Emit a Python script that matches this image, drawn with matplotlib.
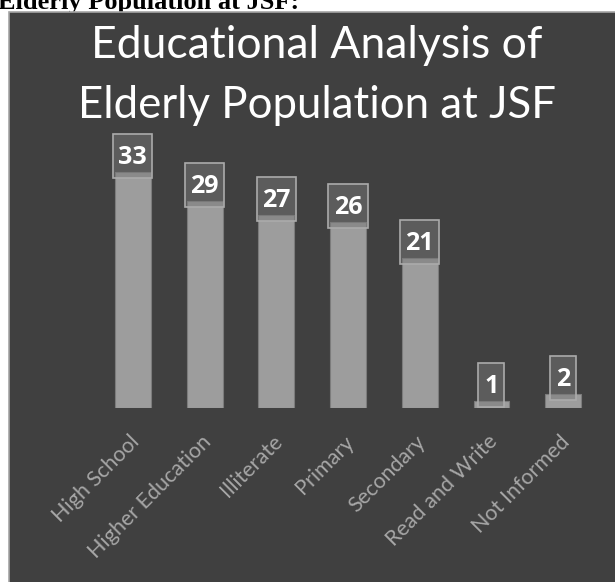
import matplotlib.pyplot as plt
import matplotlib.transforms as mtransforms
from matplotlib.patches import Rectangle

# nivel de escolaridade dos idosos
categorias = ["High School", "Higher Education", "Illiterate", "Primary",
              "Secondary", "Read and Write", "Not Informed"]
valores = [33, 29, 27, 26, 21, 1, 2]

W, H = 615, 582
fig = plt.figure(figsize=(W / 100, H / 100), dpi=100)
fig.patch.set_facecolor("white")

# legenda do documento, cortada pela borda superior
fig.text(-2 / W, 1 - 9 / H, "Elderly Population at JSF:", ha="left", va="baseline",
         fontsize=19, fontweight="bold", family="Liberation Serif", color="black", zorder=0)

# fundo escuro do grafico
painel = Rectangle((9 / W, -0.01), 1.0, (H - 12) / H + 0.01, transform=fig.transFigure,
                   facecolor="#404040", edgecolor="#a6a6a6", linewidth=1.2, zorder=0.5)
fig.patches.append(painel)

fig.text(317 / W, 1 - 58 / H, "Educational Analysis of", ha="center", va="baseline",
         fontsize=32, color="white", family="Lato", zorder=2)
fig.text(317 / W, 1 - 118 / H, "Elderly Population at JSF", ha="center", va="baseline",
         fontsize=31.5, color="white", family="Lato", zorder=2)

ax = fig.add_axes([97 / W, (H - 408) / H, 502 / W, 250 / H])
ax.set_facecolor("none")
ax.set_zorder(1)

x = range(len(categorias))
ax.bar(x, valores, width=0.5, color="#9d9d9d", edgecolor="#7c7c7c", linewidth=0.8, zorder=2)

# caixas dos rotulos: tamanho em pixels convertido para unidades do eixo
px_x = 1 / 71.7
px_y = 35 / 250
for i, v in zip(x, valores):
    larg = (13 + 13 * len(str(v))) * px_x
    alt = 44 * px_y
    base = v - 6 * px_y
    ax.add_patch(Rectangle((i - larg / 2, base), larg, alt, facecolor=(0.47, 0.47, 0.47, 0.5),
                           edgecolor="#ababab", linewidth=1.2, zorder=3, clip_on=False))
    ax.text(i, base + alt / 2 - 1.5 * px_y, str(v), ha="center", va="center",
            fontsize=18, fontweight="bold", color="white", family="Open Sans",
            zorder=4, clip_on=False)

ax.set_xlim(-0.5, len(categorias) - 0.5)
ax.set_ylim(0, 35)
ax.set_xticks(list(x))
ax.set_xticklabels(categorias, rotation=45, ha="right", va="top", rotation_mode="anchor",
                   fontsize=15.5, color="#a6a6a6", family="Lato")
ax.tick_params(axis="x", length=0, pad=17)
ax.set_yticks([])
for s in ax.spines.values():
    s.set_visible(False)

desloc = mtransforms.ScaledTranslation(-4 / 100, 0, fig.dpi_scale_trans)
for lbl in ax.get_xticklabels():
    lbl.set_transform(lbl.get_transform() + desloc)

fig.savefig("out.png", dpi=100)
